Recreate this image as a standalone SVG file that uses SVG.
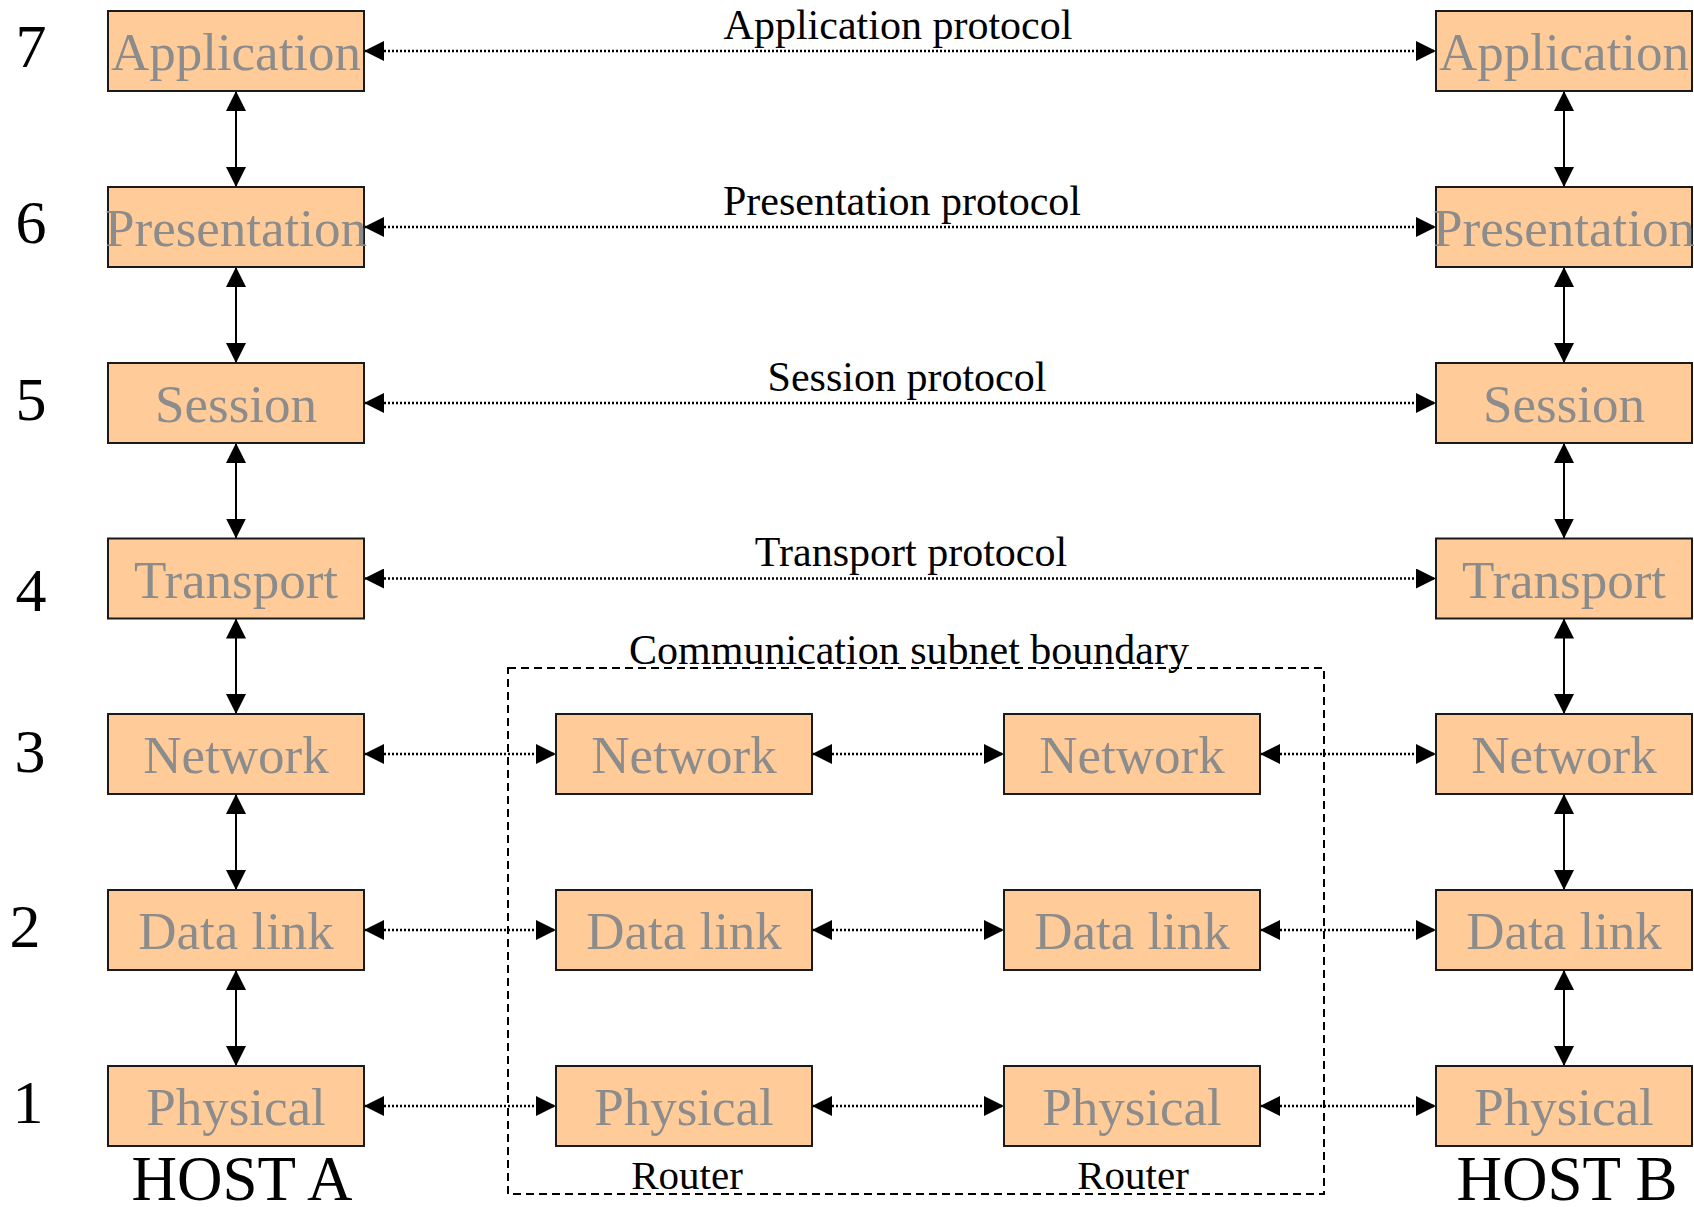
<svg xmlns="http://www.w3.org/2000/svg" width="1694" height="1207" viewBox="0 0 1694 1207">
  <style>
    .box { fill: #ffcc99; stroke: #1a1a1a; stroke-width: 2; }
    .lbl { font-family: "Liberation Serif", "Times New Roman", serif; font-size: 53px; fill: #8c8c8c; text-anchor: middle; }
    .proto { font-family: "Liberation Serif", "Times New Roman", serif; font-size: 42px; fill: #000; text-anchor: middle; }
    .num { font-family: "Liberation Serif", "Times New Roman", serif; font-size: 62px; fill: #000; text-anchor: middle; }
    .host { font-family: "Liberation Serif", "Times New Roman", serif; font-size: 63px; fill: #000; text-anchor: middle; }
    .router { font-family: "Liberation Serif", "Times New Roman", serif; font-size: 41px; fill: #000; text-anchor: middle; }
    .solid { stroke: #000; stroke-width: 2; fill: none; marker-start: url(#arr); marker-end: url(#arr); }
    .dot { stroke: #000; stroke-width: 2.4; stroke-dasharray: 2 2; fill: none; marker-start: url(#arr); marker-end: url(#arr); }
    .boundary { fill: none; stroke: #000; stroke-width: 2; stroke-dasharray: 8 5; }
  </style>
  <defs>
    <marker id="arr" markerUnits="userSpaceOnUse" markerWidth="20" markerHeight="20" refX="20" refY="10" orient="auto-start-reverse" viewBox="0 0 20 20">
      <path d="M0,0 L20,10 L0,20 z" fill="#000"/>
    </marker>
  </defs>

  <rect width="1694" height="1207" fill="#fff"/>

  <!-- subnet boundary -->
  <g id="subnet">
    <rect class="boundary" x="508" y="668" width="816" height="526"/>
    <text class="proto" x="909" y="664">Communication subnet boundary</text>
    <text class="router" x="687" y="1189">Router</text>
    <text class="router" x="1133" y="1189">Router</text>
  </g>

  <!-- layer numbers -->
  <g id="layer-numbers">
    <text class="num" x="31" y="67">7</text>
    <text class="num" x="31" y="243">6</text>
    <text class="num" x="31" y="420">5</text>
    <text class="num" x="31" y="611">4</text>
    <text class="num" x="30" y="772">3</text>
    <text class="num" x="25" y="947">2</text>
    <text class="num" x="28" y="1123">1</text>
  </g>

  <!-- connectors -->
  <g id="connectors">
    <!-- host A stack -->
    <line class="solid" x1="236" y1="91" x2="236" y2="187"/>
    <line class="solid" x1="236" y1="267" x2="236" y2="363"/>
    <line class="solid" x1="236" y1="443" x2="236" y2="538.5"/>
    <line class="solid" x1="236" y1="618.5" x2="236" y2="714"/>
    <line class="solid" x1="236" y1="794" x2="236" y2="890"/>
    <line class="solid" x1="236" y1="970" x2="236" y2="1066"/>
    <!-- host B stack -->
    <line class="solid" x1="1564" y1="91" x2="1564" y2="187"/>
    <line class="solid" x1="1564" y1="267" x2="1564" y2="363"/>
    <line class="solid" x1="1564" y1="443" x2="1564" y2="538.5"/>
    <line class="solid" x1="1564" y1="618.5" x2="1564" y2="714"/>
    <line class="solid" x1="1564" y1="794" x2="1564" y2="890"/>
    <line class="solid" x1="1564" y1="970" x2="1564" y2="1066"/>
    <!-- peer protocols -->
    <line class="dot" x1="364" y1="51" x2="1436" y2="51"/>
    <line class="dot" x1="364" y1="227" x2="1436" y2="227"/>
    <line class="dot" x1="364" y1="403" x2="1436" y2="403"/>
    <line class="dot" x1="364" y1="578.5" x2="1436" y2="578.5"/>
    <!-- hop by hop -->
    <line class="dot" x1="364" y1="754" x2="556" y2="754"/>
    <line class="dot" x1="812" y1="754" x2="1004" y2="754"/>
    <line class="dot" x1="1260" y1="754" x2="1436" y2="754"/>
    <line class="dot" x1="364" y1="930" x2="556" y2="930"/>
    <line class="dot" x1="812" y1="930" x2="1004" y2="930"/>
    <line class="dot" x1="1260" y1="930" x2="1436" y2="930"/>
    <line class="dot" x1="364" y1="1106" x2="556" y2="1106"/>
    <line class="dot" x1="812" y1="1106" x2="1004" y2="1106"/>
    <line class="dot" x1="1260" y1="1106" x2="1436" y2="1106"/>
    <!-- protocol labels -->
    <text class="proto" x="898" y="39">Application protocol</text>
    <text class="proto" x="902" y="215">Presentation protocol</text>
    <text class="proto" x="907" y="391">Session protocol</text>
    <text class="proto" x="911" y="566">Transport protocol</text>
  </g>

  <!-- host A -->
  <g id="a-application"><rect class="box" x="108" y="11" width="256" height="80"/><text class="lbl" x="236" y="70">Application</text></g>
  <g id="a-presentation"><rect class="box" x="108" y="187" width="256" height="80"/><text class="lbl" x="236" y="246">Presentation</text></g>
  <g id="a-session"><rect class="box" x="108" y="363" width="256" height="80"/><text class="lbl" x="236" y="422">Session</text></g>
  <g id="a-transport"><rect class="box" x="108" y="538.5" width="256" height="80"/><text class="lbl" x="236" y="597.5">Transport</text></g>
  <g id="a-network"><rect class="box" x="108" y="714" width="256" height="80"/><text class="lbl" x="236" y="773">Network</text></g>
  <g id="a-datalink"><rect class="box" x="108" y="890" width="256" height="80"/><text class="lbl" x="236" y="949">Data link</text></g>
  <g id="a-physical"><rect class="box" x="108" y="1066" width="256" height="80"/><text class="lbl" x="236" y="1125">Physical</text></g>

  <!-- router 1 -->
  <g id="r1-network"><rect class="box" x="556" y="714" width="256" height="80"/><text class="lbl" x="684" y="773">Network</text></g>
  <g id="r1-datalink"><rect class="box" x="556" y="890" width="256" height="80"/><text class="lbl" x="684" y="949">Data link</text></g>
  <g id="r1-physical"><rect class="box" x="556" y="1066" width="256" height="80"/><text class="lbl" x="684" y="1125">Physical</text></g>

  <!-- router 2 -->
  <g id="r2-network"><rect class="box" x="1004" y="714" width="256" height="80"/><text class="lbl" x="1132" y="773">Network</text></g>
  <g id="r2-datalink"><rect class="box" x="1004" y="890" width="256" height="80"/><text class="lbl" x="1132" y="949">Data link</text></g>
  <g id="r2-physical"><rect class="box" x="1004" y="1066" width="256" height="80"/><text class="lbl" x="1132" y="1125">Physical</text></g>

  <!-- host B -->
  <g id="b-application"><rect class="box" x="1436" y="11" width="256" height="80"/><text class="lbl" x="1564" y="70">Application</text></g>
  <g id="b-presentation"><rect class="box" x="1436" y="187" width="256" height="80"/><text class="lbl" x="1564" y="246">Presentation</text></g>
  <g id="b-session"><rect class="box" x="1436" y="363" width="256" height="80"/><text class="lbl" x="1564" y="422">Session</text></g>
  <g id="b-transport"><rect class="box" x="1436" y="538.5" width="256" height="80"/><text class="lbl" x="1564" y="597.5">Transport</text></g>
  <g id="b-network"><rect class="box" x="1436" y="714" width="256" height="80"/><text class="lbl" x="1564" y="773">Network</text></g>
  <g id="b-datalink"><rect class="box" x="1436" y="890" width="256" height="80"/><text class="lbl" x="1564" y="949">Data link</text></g>
  <g id="b-physical"><rect class="box" x="1436" y="1066" width="256" height="80"/><text class="lbl" x="1564" y="1125">Physical</text></g>

  <!-- host captions -->
  <g id="host-labels">
    <text class="host" x="242" y="1200">HOST A</text>
    <text class="host" x="1567" y="1200">HOST B</text>
  </g>
</svg>
